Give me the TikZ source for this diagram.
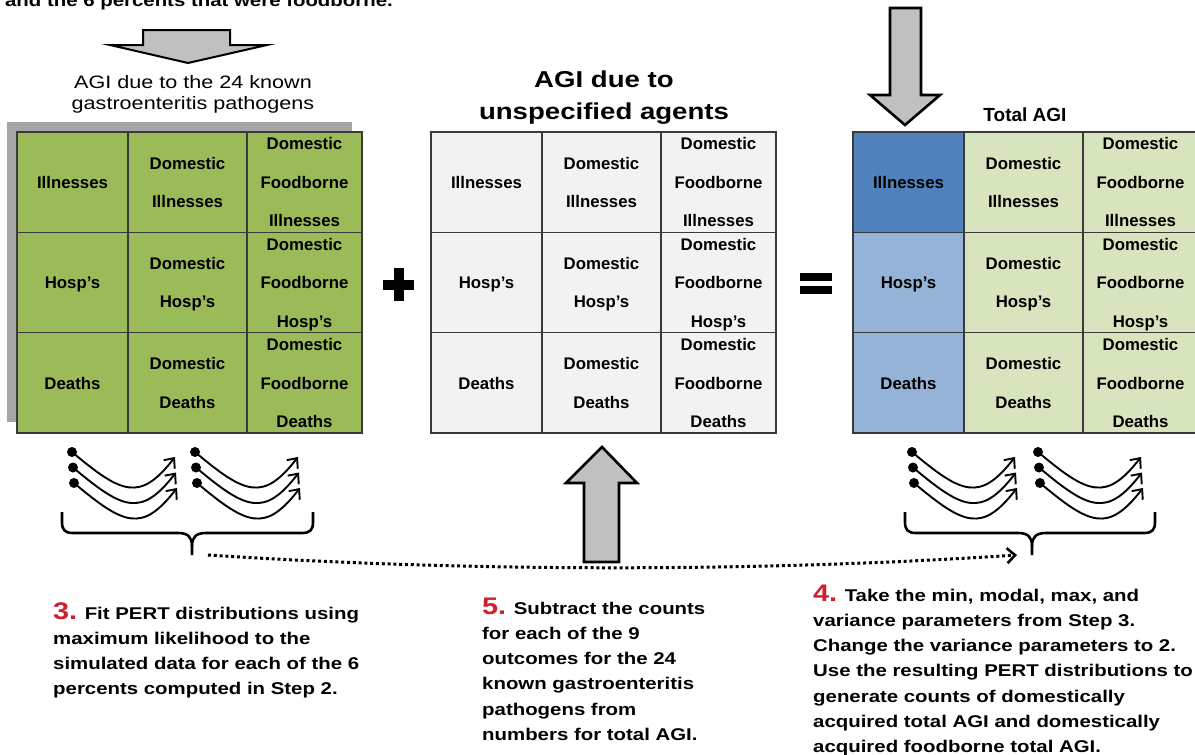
\documentclass[tikz,border=0pt]{standalone}
\usepackage{fontspec}
\setmainfont{Liberation Sans}[FakeStretch=1.2]
\newfontfamily\cellfont{Liberation Sans}
\usetikzlibrary{arrows.meta}
\definecolor{agigreen}{HTML}{9BBB59}
\definecolor{shadowgray}{HTML}{A6A6A6}
\definecolor{lightgray}{HTML}{F2F2F2}
\definecolor{darkblue}{HTML}{4F81BD}
\definecolor{lightblue}{HTML}{95B3D7}
\definecolor{palegreen}{HTML}{D7E4BD}
\definecolor{gridc}{HTML}{3A3A3A}
\definecolor{arrowfill}{HTML}{C0C0C0}
\definecolor{numred}{HTML}{D0202E}
\newcommand\cl[1]{\begin{tabular}{@{}c@{}}#1\end{tabular}}
\newcommand\lft[1]{\begin{tabular}[t]{@{}l@{}}#1\end{tabular}}
\newcommand\ctr[1]{\begin{tabular}[t]{@{}c@{}}#1\end{tabular}}
\newcommand\num[1]{{\fontsize{24}{25.3}\selectfont\color{numred}#1}}
\tikzset{
  cellbox/.style={draw=gridc, line width=1.5pt, minimum height=100.33pt, inner sep=0pt},
  celltxt/.style={inner sep=0pt, yshift=1.5pt, text=black,
    font=\cellfont\bfseries\fontsize{16.8}{38.5}\selectfont},
  steptxt/.style={anchor=base west, inner sep=0pt, align=left,
    font=\bfseries\fontsize{17}{25.3}\selectfont},
  blockarrow/.style={draw=black, fill=arrowfill, line width=2.6pt, line join=miter},
  curve/.style={line width=1.9pt, -{Straight Barb[length=8pt,width=14pt,line width=1.9pt]}},
  brc/.style={line width=2.6pt},
  dotconn/.style={line width=3pt, dash pattern=on 3pt off 2.8pt,
    -{Straight Barb[length=8pt,width=15pt,line width=2.6pt]}},
  curlyset/.pic={
    \foreach \dy/\dx in {0/0,15.5/1,31/2}{
      \fill (\dx,\dy) circle (5);
      \draw[curve] (\dx,\dy) .. controls (\dx+50,\dy+42) and (\dx+68,\dy+50) .. (\dx+103,\dy+5);
    }
  }
}
\newcommand\agigrid[5]{%
  \node[cellbox,fill=#3,minimum width=111pt] (#1-r1c1) at (#2+55.5,182.2) {};
  \node[cellbox,fill=#5,minimum width=119pt] (#1-r1c2) at (#2+170.5,182.2) {};
  \node[cellbox,fill=#5,minimum width=115pt] (#1-r1c3) at (#2+287.5,182.2) {};
  \node[cellbox,fill=#4,minimum width=111pt] (#1-r2c1) at (#2+55.5,282.5) {};
  \node[cellbox,fill=#5,minimum width=119pt] (#1-r2c2) at (#2+170.5,282.5) {};
  \node[cellbox,fill=#5,minimum width=115pt] (#1-r2c3) at (#2+287.5,282.5) {};
  \node[cellbox,fill=#4,minimum width=111pt] (#1-r3c1) at (#2+55.5,382.8) {};
  \node[cellbox,fill=#5,minimum width=119pt] (#1-r3c2) at (#2+170.5,382.8) {};
  \node[cellbox,fill=#5,minimum width=115pt] (#1-r3c3) at (#2+287.5,382.8) {};
  \node[celltxt] (#1-t11) at (#1-r1c1) {\cl{Illnesses}};
  \node[celltxt] (#1-t12) at (#1-r1c2) {\cl{Domestic\\Illnesses}};
  \node[celltxt] (#1-t13) at (#1-r1c3) {\cl{Domestic\\Foodborne\\Illnesses}};
  \node[celltxt] (#1-t21) at (#1-r2c1) {\cl{Hosp’s}};
  \node[celltxt] (#1-t22) at (#1-r2c2) {\cl{Domestic\\Hosp’s}};
  \node[celltxt] (#1-t23) at (#1-r2c3) {\cl{Domestic\\Foodborne\\Hosp’s}};
  \node[celltxt] (#1-t31) at (#1-r3c1) {\cl{Deaths}};
  \node[celltxt] (#1-t32) at (#1-r3c2) {\cl{Domestic\\Deaths}};
  \node[celltxt] (#1-t33) at (#1-r3c3) {\cl{Domestic\\Foodborne\\Deaths}};
}
\newcommand\brce[4]{% name, xL, xTip, xR
  \coordinate (#1) at (#3,555);
  \draw[brc] (#2,512) -- (#2,522) .. controls (#2,530) and (#2+3,533) .. (#2+11,533)
    -- (#3-14,533) .. controls (#3-4,533) and (#3,537) .. (#3,546) -- (#1);
  \draw[brc] (#3,546) .. controls (#3,537) and (#3+4,533) .. (#3+14,533)
    -- (#4-11,533) .. controls (#4-3,533) and (#4,530) .. (#4,522) -- (#4,512);
}
\begin{document}
\begin{tikzpicture}[x=1pt,y=-1pt]
\useasboundingbox (0,0) rectangle (1195,755);
\fill[white] (0,0) rectangle (1195,755);

% cut-off text at the top
\node[anchor=base east, inner sep=0pt, font=\bfseries\fontsize{17}{25.3}\selectfont] (toptext) at (393,6)
  {and the 6 percents that were foodborne.};

% block arrows
\draw[blockarrow, line width=2pt] (143,30) -- (230,30) -- (230,45) -- (267,45) -- (188,63) -- (110,45) -- (143,45) -- cycle;
\draw[blockarrow] (890,8) -- (921,8) -- (921,95) -- (940,95) -- (905,125) -- (870,95) -- (890,95) -- cycle;
\draw[blockarrow] (584,562) -- (619,562) -- (619,483) -- (637,483) -- (602,447) -- (566,483) -- (584,483) -- cycle;

% headers
\node[anchor=base, inner sep=0pt, font=\fontsize{18}{21}\selectfont] (hL) at (193,88)
  {\ctr{AGI due to the 24 known\\gastroenteritis pathogens}};
\node[anchor=base, inner sep=0pt, font=\bfseries\fontsize{23}{32}\selectfont] (hM) at (604,87)
  {\ctr{AGI due to\\unspecified agents}};
\node[anchor=base, inner sep=0pt, font=\cellfont\bfseries\fontsize{19}{22}\selectfont] (hT) at (1025,121)
  {Total AGI};

% shadow and grids
\fill[shadowgray] (7,122) rectangle (352,422);
\agigrid{L}{17}{agigreen}{agigreen}{agigreen}
\agigrid{M}{431}{lightgray}{lightgray}{lightgray}
\agigrid{R}{853}{darkblue}{lightblue}{palegreen}

% plus and equals
\fill (383,280) rectangle (414,290);
\fill (394,268) rectangle (404,301);
\fill (800,273) rectangle (832,281);
\fill (800,286) rectangle (832,294);

% curly arrows
\pic at (72,452) {curlyset};
\pic at (195,452) {curlyset};
\pic at (912,452) {curlyset};
\pic at (1038,452) {curlyset};

% braces
\brce{lb}{62}{192}{313}
\brce{rb}{905}{1032}{1155}

% dotted connector
\draw[dotconn] ([xshift=16pt]lb) .. controls +(260,17) and +(-257,17) .. ([xshift=-15pt]rb);

% step texts
\node[steptxt] (s3) at (53,619) {\lft{\num{3.} Fit PERT distributions using\\maximum likelihood to the\\simulated data for each of the 6\\percents computed in Step 2.}};
\node[steptxt] (s5) at (482,614) {\lft{\num{5.} Subtract the counts\\for each of the 9\\outcomes for the 24\\known gastroenteritis\\pathogens from\\numbers for total AGI.}};
\node[steptxt] (s4) at (813,601) {\lft{\num{4.} Take the min, modal, max, and\\variance parameters from Step 3.\\Change the variance parameters to 2.\\Use the resulting PERT distributions to\\generate counts of domestically\\acquired total AGI and domestically\\acquired foodborne total AGI.}};
\end{tikzpicture}
\end{document}
